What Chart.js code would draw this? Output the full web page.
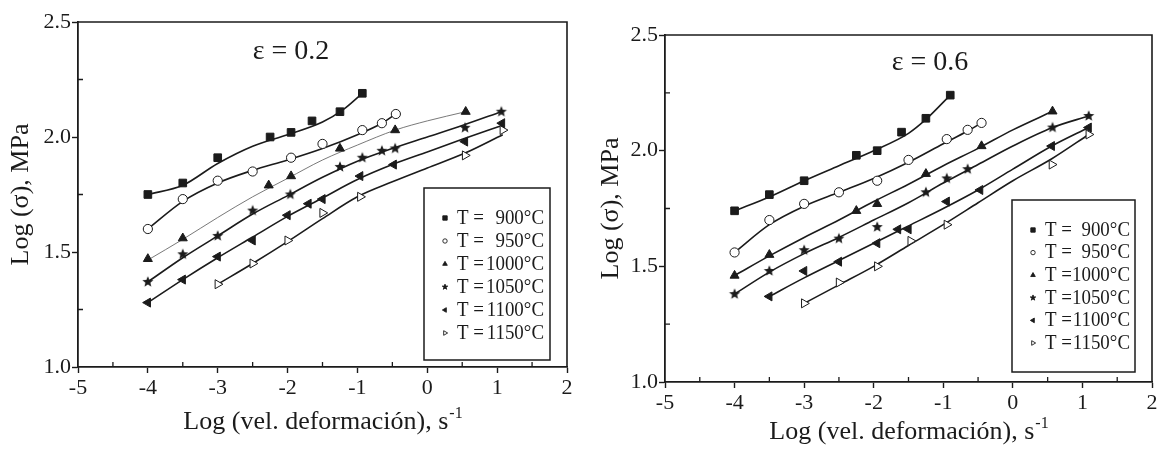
<!DOCTYPE html>
<html>
<head>
<meta charset="utf-8">
<script src="https://cdn.jsdelivr.net/npm/chart.js@4/dist/chart.umd.min.js"></script>
<style>
  body { margin: 0; background: #fff; }
  #wrap { position: relative; width: 1163px; height: 450px; }
  .panel { position: absolute; top: 0; }
</style>
</head>
<body>
<div id="wrap">
  <div class="panel" style="left:0"><canvas id="c02" width="580" height="450"></canvas></div>
  <div class="panel" style="left:580px"><canvas id="c06" width="583" height="450"></canvas></div>
</div>
<script>
// temperatures of the six series
const temps = [900, 950, 1000, 1050, 1100, 1150];

// strain 0.2 : measured log(strain rate) and log(stress)
const rate02_900 = [-4, -3.5, -3, -2.25, -1.95, -1.65, -1.25, -0.93];
const sig02_900 = [1.75, 1.80, 1.91, 2.00, 2.02, 2.07, 2.11, 2.19];
const rate02_950 = [-4, -3.5, -3, -2.5, -1.95, -1.5, -0.93, -0.65, -0.45];
const sig02_950 = [1.60, 1.73, 1.81, 1.85, 1.91, 1.97, 2.03, 2.06, 2.10];
const rate02_1000 = [-4, -3.5, -2.27, -1.95, -1.25, -0.46, 0.55];
const sig02_1000 = [1.47, 1.56, 1.79, 1.83, 1.95, 2.03, 2.11];
const rate02_1050 = [-4, -3.5, -3, -2.5, -1.96, -1.25, -0.93, -0.65, -0.46, 0.54, 1.06];
const sig02_1050 = [1.37, 1.49, 1.57, 1.68, 1.75, 1.87, 1.91, 1.94, 1.95, 2.04, 2.11];
const rate02_1100 = [-4, -3.5, -3, -2.5, -2, -1.7, -1.5, -0.96, -0.48, 0.54, 1.07];
const sig02_1100 = [1.28, 1.38, 1.48, 1.55, 1.66, 1.71, 1.73, 1.83, 1.88, 1.98, 2.06];
const rate02_1150 = [-3, -2.5, -2, -1.5, -0.96, 0.54, 1.08];
const sig02_1150 = [1.36, 1.45, 1.55, 1.67, 1.74, 1.92, 2.03];

// strain 0.2 : drawn fit curves [log rate, log stress]
const fit02_900 = [[-4, 1.75], [-3.5, 1.79], [-3, 1.885], [-2.5, 1.96], [-2, 2.01], [-1.5, 2.065], [-1.2, 2.12], [-0.93, 2.19]];
const fit02_950 = [[-4, 1.60], [-3.5, 1.72], [-3, 1.80], [-2.5, 1.855], [-2, 1.90], [-1.5, 1.95], [-1, 2.01], [-0.65, 2.06], [-0.45, 2.10]];
const fit02_1000 = [[-4, 1.465], [-3.5, 1.555], [-3, 1.65], [-2.5, 1.74], [-2, 1.82], [-1.5, 1.90], [-1, 1.965], [-0.46, 2.03], [0, 2.07], [0.55, 2.11]];
const fit02_1050 = [[-4, 1.37], [-3.5, 1.475], [-3, 1.57], [-2.5, 1.665], [-2, 1.745], [-1.5, 1.825], [-1, 1.895], [-0.5, 1.95], [0, 2.00], [0.5, 2.05], [1.06, 2.11]];
const fit02_1100 = [[-4, 1.28], [-3.5, 1.38], [-3, 1.475], [-2.5, 1.565], [-2, 1.655], [-1.5, 1.735], [-1, 1.815], [-0.5, 1.88], [0, 1.935], [0.5, 1.99], [1.07, 2.05]];
const fit02_1150 = [[-3, 1.36], [-2.5, 1.45], [-2, 1.545], [-1.5, 1.645], [-1, 1.74], [-0.5, 1.805], [0, 1.865], [0.54, 1.93], [1.08, 2.01]];

// strain 0.6 : measured
const rate06_900 = [-4, -3.5, -3, -2.25, -1.95, -1.6, -1.25, -0.9];
const sig06_900 = [1.74, 1.81, 1.87, 1.98, 2.00, 2.08, 2.14, 2.24];
const rate06_950 = [-4, -3.5, -3, -2.5, -1.95, -1.5, -0.95, -0.65, -0.45];
const sig06_950 = [1.56, 1.70, 1.77, 1.82, 1.87, 1.96, 2.05, 2.09, 2.12];
const rate06_1000 = [-4, -3.5, -2.25, -1.95, -1.25, -0.45, 0.57];
const sig06_1000 = [1.46, 1.55, 1.74, 1.77, 1.90, 2.02, 2.17];
const rate06_1050 = [-4, -3.5, -3, -2.5, -1.95, -1.25, -0.95, -0.65, 0.57, 1.09];
const sig06_1050 = [1.38, 1.48, 1.57, 1.62, 1.67, 1.82, 1.88, 1.92, 2.10, 2.15];
const rate06_1100 = [-3.5, -3, -2.5, -1.95, -1.65, -1.5, -0.95, -0.47, 0.56, 1.09];
const sig06_1100 = [1.37, 1.48, 1.52, 1.60, 1.66, 1.66, 1.78, 1.83, 2.02, 2.10];
const rate06_1150 = [-3, -2.5, -1.95, -1.47, -0.95, 0.56, 1.09];
const sig06_1150 = [1.34, 1.43, 1.50, 1.61, 1.68, 1.94, 2.07];

// strain 0.6 : drawn fit curves
const fit06_900 = [[-4, 1.74], [-3.5, 1.80], [-3, 1.87], [-2.5, 1.935], [-2, 2.00], [-1.5, 2.075], [-1.25, 2.135], [-0.9, 2.24]];
const fit06_950 = [[-4, 1.56], [-3.5, 1.68], [-3, 1.76], [-2.5, 1.82], [-2, 1.88], [-1.5, 1.95], [-1, 2.03], [-0.65, 2.085], [-0.45, 2.12]];
const fit06_1000 = [[-4, 1.46], [-3.5, 1.545], [-3, 1.625], [-2.5, 1.70], [-2, 1.78], [-1.5, 1.855], [-1, 1.935], [-0.5, 2.01], [0, 2.09], [0.57, 2.17]];
const fit06_1050 = [[-4, 1.38], [-3.5, 1.475], [-3, 1.555], [-2.5, 1.625], [-2, 1.70], [-1.5, 1.775], [-1, 1.86], [-0.5, 1.94], [0, 2.02], [0.57, 2.10], [1.09, 2.15]];
const fit06_1100 = [[-3.5, 1.37], [-3, 1.45], [-2.5, 1.525], [-2, 1.60], [-1.5, 1.675], [-1, 1.75], [-0.5, 1.83], [0, 1.92], [0.56, 2.02], [1.09, 2.10]];
const fit06_1150 = [[-3, 1.34], [-2.5, 1.42], [-2, 1.50], [-1.5, 1.59], [-1, 1.68], [-0.5, 1.775], [0, 1.87], [0.56, 1.965], [1.09, 2.07]];

const serif = "'Liberation Serif', 'Times New Roman', serif";
const ink = '#1b1b1b';

function starImage(r) {
    const s = Math.ceil(r * 2 + 2);
    const c = document.createElement('canvas');
    c.width = s; c.height = s;
    const g = c.getContext('2d');
    g.fillStyle = ink;
    g.beginPath();
    for (let i = 0; i < 10; i++) {
        const rr = i % 2 ? r * 0.45 : r;
        const a = -Math.PI / 2 + i * Math.PI / 5;
        g.lineTo(s / 2 + rr * Math.cos(a), s / 2 + rr * Math.sin(a));
    }
    g.closePath();
    g.fill();
    return c;
}

// marker look for each temperature
const marks = [
    { style: 'rect', r: 5.4, rot: 0, fill: ink },
    { style: 'circle', r: 4.6, rot: 0, fill: '#fff' },
    { style: 'triangle', r: 5.2, rot: 0, fill: ink },
    { style: starImage(5.8), r: 5, rot: 0, fill: ink },
    { style: 'triangle', r: 5.2, rot: -90, fill: ink },
    { style: 'triangle', r: 5.2, rot: 90, fill: '#fff' }
];

function legendMark(ctx, i, x, y, r) {
    ctx.save();
    ctx.translate(x, y);
    ctx.fillStyle = marks[i].fill;
    ctx.strokeStyle = ink;
    ctx.lineWidth = 0.9;
    ctx.beginPath();
    if (i === 0) {
        ctx.rect(-r, -r, 2 * r, 2 * r);
    } else if (i === 1) {
        ctx.arc(0, 0, r, 0, Math.PI * 2);
    } else if (i === 3) {
        for (let k = 0; k < 10; k++) {
            const rr = k % 2 ? r * 0.5 : r * 1.3;
            const a = -Math.PI / 2 + k * Math.PI / 5;
            ctx.lineTo(rr * Math.cos(a), rr * Math.sin(a));
        }
        ctx.closePath();
    } else {
        ctx.rotate(marks[i].rot * Math.PI / 180);
        ctx.moveTo(0, -r * 1.2);
        ctx.lineTo(r * 1.05, r * 0.6);
        ctx.lineTo(-r * 1.05, r * 0.6);
        ctx.closePath();
    }
    ctx.fill();
    ctx.stroke();
    ctx.restore();
}

// condensed serif text, like the scanned figure
function narrowText(ctx, txt, x, y, align, sx) {
    ctx.save();
    ctx.translate(x, y);
    ctx.scale(sx, 1);
    ctx.textAlign = align;
    ctx.fillText(txt, 0, 0);
    ctx.restore();
}

// frame, inner minor ticks, strain label, x title and legend box
const decor = {
    id: 'decor',
    afterDraw(chart, args, o) {
        const ctx = chart.ctx;
        const a = chart.chartArea;
        const xs = chart.scales.x, ys = chart.scales.y;
        ctx.save();
        ctx.strokeStyle = ink;
        ctx.lineWidth = 1.6;
        ctx.beginPath();
        ctx.moveTo(a.left, a.top);
        ctx.lineTo(a.right, a.top);
        ctx.lineTo(a.right, a.bottom);
        ctx.stroke();

        ctx.lineWidth = 1.3;
        ctx.beginPath();
        xs.ticks.forEach(t => {
            if (!Number.isInteger(t.value)) {
                const p = xs.getPixelForValue(t.value);
                ctx.moveTo(p, a.bottom);
                ctx.lineTo(p, a.bottom - 5);
            }
        });
        ys.ticks.forEach(t => {
            if ((t.value * 4) % 2 !== 0) {
                const p = ys.getPixelForValue(t.value);
                ctx.moveTo(a.left, p);
                ctx.lineTo(a.left + 5, p);
            }
        });
        ctx.stroke();

        ctx.fillStyle = ink;
        ctx.font = '28px ' + serif;
        ctx.textAlign = 'center';
        ctx.textBaseline = 'middle';
        ctx.fillText(o.strain, o.strainX, o.strainY);

        // x axis title with superscript
        const main = 'Log (vel. deformación), s';
        ctx.font = '26px ' + serif;
        const w1 = ctx.measureText(main).width;
        ctx.font = '16px ' + serif;
        const w2 = ctx.measureText('-1').width;
        const x0 = (a.left + a.right) / 2 - (w1 + w2) / 2;
        ctx.textAlign = 'left';
        ctx.textBaseline = 'alphabetic';
        ctx.font = '26px ' + serif;
        ctx.fillText(main, x0, o.titleY);
        ctx.font = '16px ' + serif;
        ctx.fillText('-1', x0 + w1 + 1, o.titleY - 11);

        // legend
        const b = o.box;
        ctx.lineWidth = 1.5;
        ctx.strokeRect(b.l, b.t, b.r - b.l, b.b - b.t);
        ctx.font = '22px ' + serif;
        ctx.textBaseline = 'middle';
        temps.forEach((T, i) => {
            const y = o.row0 + i * o.rowStep;
            legendMark(ctx, i, o.markX, y, 2.2);
            narrowText(ctx, 'T =', o.textX, y, 'left', 0.86);
            narrowText(ctx, T + '°C', o.numRight, y, 'right', 0.86);
        });
        ctx.restore();
    }
};

function makeChart(id, rates, sigs, fits, o) {
    const curves = temps.map((T, i) => ({
        label: 'fit ' + T + '°C',
        data: fits[i].map(p => ({ x: p[0], y: p[1] })),
        borderColor: (i === 2 && o.thin) ? '#6a6a6a' : ink,
        borderWidth: (i === 2 && o.thin) ? 0.9 : 1.6,
        pointRadius: 0,
        cubicInterpolationMode: 'monotone',
        fill: false,
        order: 2
    }));
    const points = temps.map((T, i) => ({
        label: 'T = ' + T + '°C',
        data: rates[i].map((v, k) => ({ x: v, y: sigs[i][k] })),
        showLine: false,
        pointStyle: marks[i].style,
        pointRadius: marks[i].r,
        pointRotation: marks[i].rot,
        pointBackgroundColor: marks[i].fill,
        pointBorderColor: ink,
        pointBorderWidth: 1,
        order: 1
    }));
    const tickFont = { family: serif, size: 22 };
    return new Chart(document.getElementById(id), {
        type: 'line',
        data: { datasets: curves.concat(points) },
        options: {
            responsive: false,
            animation: false,
            layout: { padding: { top: o.top, right: o.right, left: 0, bottom: 0 } },
            plugins: { legend: { display: false }, tooltip: { enabled: false }, decor: o },
            scales: {
                x: {
                    type: 'linear', min: -5, max: 2,
                    ticks: {
                        stepSize: 0.5, autoSkip: false, maxRotation: 0, padding: 2,
                        color: ink, font: tickFont,
                        callback: v => Number.isInteger(v) ? String(v) : ''
                    },
                    grid: {
                        drawOnChartArea: false, tickLength: 6, tickWidth: 1.4,
                        tickColor: c => Number.isInteger(c.tick.value) ? ink : 'rgba(0,0,0,0)'
                    },
                    border: { color: ink, width: 1.8 },
                    afterFit: s => { s.height = o.xh; }
                },
                y: {
                    min: 1, max: 2.5,
                    ticks: {
                        stepSize: 0.25, autoSkip: false, padding: 1,
                        color: ink, font: tickFont,
                        callback: v => ((v * 4) % 2 === 0) ? v.toFixed(1) : ''
                    },
                    grid: {
                        drawOnChartArea: false, tickLength: 6, tickWidth: 1.4,
                        tickColor: c => ((c.tick.value * 4) % 2 === 0) ? ink : 'rgba(0,0,0,0)'
                    },
                    border: { color: ink, width: 1.8 },
                    title: {
                        display: true, text: 'Log (σ), MPa', color: ink,
                        font: { family: serif, size: 26 },
                        padding: { top: o.yTitlePad, bottom: 0 }
                    },
                    afterFit: s => { s.width = o.yw; }
                }
            }
        },
        plugins: [decor]
    });
}

makeChart('c02',
    [rate02_900, rate02_950, rate02_1000, rate02_1050, rate02_1100, rate02_1150],
    [sig02_900, sig02_950, sig02_1000, sig02_1050, sig02_1100, sig02_1150],
    [fit02_900, fit02_950, fit02_1000, fit02_1050, fit02_1100, fit02_1150],
    {
        top: 22, right: 13, yw: 78, xh: 83, yTitlePad: 6, thin: true,
        strain: 'ε = 0.2', strainX: 291, strainY: 52, titleY: 429,
        box: { l: 424, t: 188, r: 550, b: 360 },
        row0: 218, rowStep: 23, markX: 445, textX: 457, numRight: 544
    });

makeChart('c06',
    [rate06_900, rate06_950, rate06_1000, rate06_1050, rate06_1100, rate06_1150],
    [sig06_900, sig06_950, sig06_1000, sig06_1050, sig06_1100, sig06_1150],
    [fit06_900, fit06_950, fit06_1000, fit06_1050, fit06_1100, fit06_1150],
    {
        top: 35, right: 11, yw: 85, xh: 68, yTitlePad: 16, thin: false,
        strain: 'ε = 0.6', strainX: 350, strainY: 63, titleY: 439,
        box: { l: 432, t: 200, r: 555, b: 372 },
        row0: 230, rowStep: 22.6, markX: 453, textX: 465, numRight: 550
    });
</script>
</body>
</html>
